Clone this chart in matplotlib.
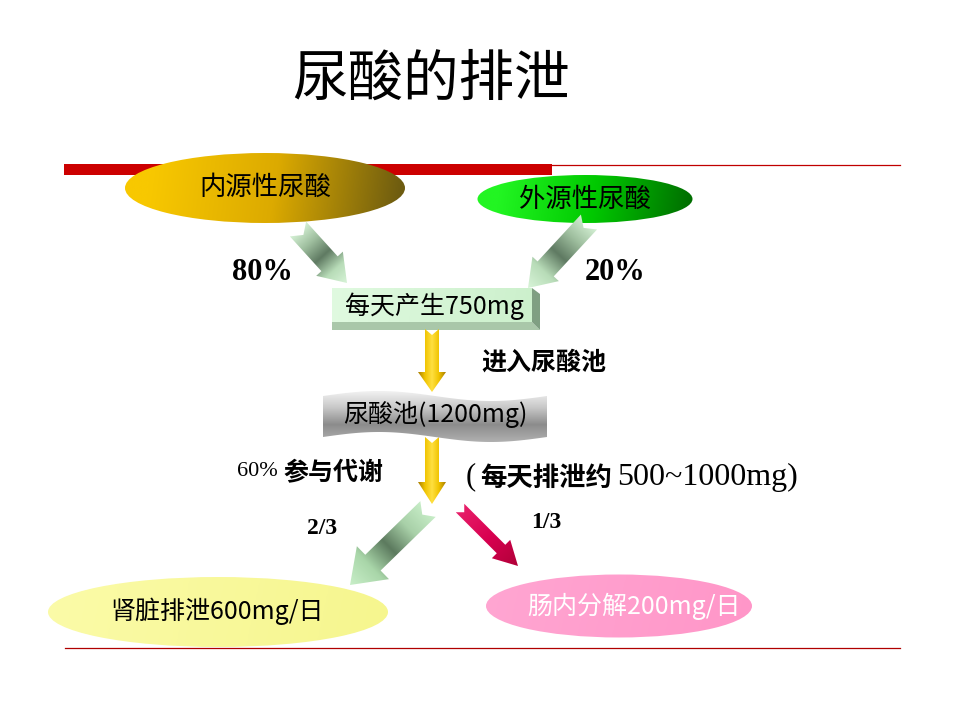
import numpy as np
import matplotlib
matplotlib.use('Agg')
import matplotlib.pyplot as plt
from matplotlib.patches import Ellipse, Polygon, Rectangle
from matplotlib.colors import LinearSegmentedColormap

plt.rcParams['font.family'] = ['Noto Sans CJK SC', 'DejaVu Sans']

# text content of the diagram
title = '尿酸的排泄'
source_labels = ['内源性尿酸', '外源性尿酸']
source_shares = ['80%', '20%']
daily_label = '每天产生750mg'
pool_label = '尿酸池(1200mg)'
pool_note = '进入尿酸池'
metab_pct = '60%'
metab_note = '参与代谢'
excrete_cjk = '每天排泄约'
excrete_range = '500~1000mg)'
split_shares = ['2/3', '1/3']
out_labels = ['肾脏排泄600mg/日', '肠内分解200mg/日']

SERIF = ['Liberation Serif', 'Noto Sans CJK SC']


def gradfill(ax, patch, bbox, colors, p0, p1, z=2):
        #paint a linear gradient inside a patch
        patch.set_facecolor('none')
        patch.set_edgecolor('none')
        patch.set_zorder(z)
        ax.add_patch(patch)
        x0, y0, x1, y1 = bbox
        xs = np.linspace(x0, x1, 200)
        ys = np.linspace(y0, y1, 200)
        X, Y = np.meshgrid(xs, ys)
        dx, dy = p1[0] - p0[0], p1[1] - p0[1]
        t = ((X - p0[0]) * dx + (Y - p0[1]) * dy) / (dx * dx + dy * dy)
        t = np.clip(t, 0, 1)
        cmap = LinearSegmentedColormap.from_list('g', colors)
        im = ax.imshow(cmap(t), extent=(x0, x1, y1, y0), origin='upper',
                       interpolation='bilinear', zorder=z, aspect='auto')
        im.set_clip_path(patch)


def arrowpoly(tail, tip, sw, hw, hl, nd):
        tail = np.array(tail, float)
        tip = np.array(tip, float)
        u = (tip - tail) / np.linalg.norm(tip - tail)
        n = np.array([-u[1], u[0]])
        base = tip - u * hl
        pts = [tail + n * sw / 2, base + n * sw / 2, base + n * hw / 2, tip,
               base - n * hw / 2, base - n * sw / 2, tail - n * sw / 2, tail + u * nd]
        pts = np.array(pts)
        bbox = (pts[:, 0].min(), pts[:, 1].min(), pts[:, 0].max(), pts[:, 1].max())
        return pts, bbox, u, n


def draw_arrow(ax, tail, tip, sw, hw, hl, nd, colors, along=True, z=3):
        pts, bbox, u, n = arrowpoly(tail, tip, sw, hw, hl, nd)
        poly = Polygon(pts, closed=True)
        if along:
                p0, p1 = tail, tip
        else:
                c = np.array(tail, float)
                p0, p1 = c + n * hw / 2, c - n * hw / 2
        gradfill(ax, poly, bbox, colors, p0, p1, z)


fig = plt.figure(figsize=(9.6, 7.2), dpi=100)
ax = fig.add_axes([0, 0, 1, 1])
ax.set_xlim(0, 960)
ax.set_ylim(720, 0)
ax.axis('off')

# title and rules
ax.text(431, 80, title, fontsize=40, ha='center', va='center', color='black')
ax.add_patch(Rectangle((64, 164), 488, 11, facecolor='#cc0000', edgecolor='none', zorder=1))
ax.plot([552, 900], [164.5, 164.5], color='#c00000', lw=0.9, zorder=1)
ax.plot([65, 900], [648, 648], color='#b00000', lw=0.9, zorder=1)

# source ellipses
e1 = Ellipse((265, 188), 280, 70)
gradfill(ax, e1, (125, 153, 405, 223), ['#f8c800', '#dcaa00', '#6e5c10'], (150, 170), (400, 205))
ax.text(265, 187, source_labels[0], fontsize=19, ha='center', va='center', zorder=5)

e2 = Ellipse((585, 199), 215, 48)
gradfill(ax, e2, (477, 175, 693, 223), ['#22f522', '#00c800', '#006e00'], (500, 185), (690, 215))
ax.text(585, 199, source_labels[1], fontsize=19, ha='center', va='center', zorder=5)

# arrows into the daily box
pale = ['#d6f2d6', '#9fbf9f', '#5f7a62', '#b8dcb8', '#d8f4d8']
draw_arrow(ax, (298, 229), (347, 283), 22, 36, 26, 8, pale)
draw_arrow(ax, (589, 222), (528, 288), 22, 36, 26, 8, pale)

ax.text(262, 272, source_shares[0], fontsize=22, fontweight='bold', family=SERIF,
        ha='center', va='center')
ax.text(615, 272, source_shares[1], fontsize=22, fontweight='bold', family=SERIF,
        ha='center', va='center')

# daily box with bevel
ax.add_patch(Polygon([(332, 322), (532, 322), (540, 330), (332, 330)],
                     facecolor='#a9c7a9', edgecolor='none', zorder=3))
ax.add_patch(Polygon([(532, 288), (540, 294), (540, 330), (532, 322)],
                     facecolor='#7f9f82', edgecolor='none', zorder=3))
box = Polygon([(332, 288), (532, 288), (532, 322), (332, 322)])
gradfill(ax, box, (332, 288, 532, 322), ['#e0fae0', '#ccf0cc'], (332, 288), (532, 322), 3)
ax.text(434, 306, daily_label, fontsize=18, ha='center', va='center', zorder=5)

# gold arrows down the middle
gold = ['#a87c00', '#f0c400', '#ffe040', '#f0c400', '#a87c00']
draw_arrow(ax, (432, 329), (432, 392), 14, 28, 20, 6, gold, along=False)
draw_arrow(ax, (432, 437), (432, 504), 14, 28, 22, 6, gold, along=False)

ax.text(544, 363, pool_note, fontsize=18, fontweight='bold', ha='center', va='center')

# wavy pool banner
xs = np.linspace(323, 547, 80)
wave = 5 * np.sin(2 * np.pi * (xs - 323) / 224)
top = np.column_stack([xs, 396 - wave])
bot = np.column_stack([xs[::-1], 437 - wave[::-1]])
banner = Polygon(np.vstack([top, bot]), closed=True)
gradfill(ax, banner, (323, 388, 547, 445), ['#f4f4f4', '#c8c8c8', '#8c8c8c', '#b0b0b0'],
         (435, 390), (435, 442), 3)
ax.text(435, 414, pool_label, fontsize=18, ha='center', va='center', zorder=5)

# metabolism notes
ax.text(237, 472, metab_pct, fontsize=16, family=SERIF, ha='left', va='center')
ax.text(283, 473, metab_note, fontsize=18, fontweight='bold', ha='left', va='center')
ax.text(466, 477, '(', fontsize=22, family=SERIF, ha='left', va='center')
ax.text(480, 478, excrete_cjk, fontsize=19, fontweight='bold', ha='left', va='center')
ax.text(617, 477, excrete_range, fontsize=23, family=SERIF, ha='left', va='center')

# split arrows
draw_arrow(ax, (428, 509), (350, 585), 22, 46, 32, 8,
           ['#c8eec8', '#a8d0a8', '#5c7a5e', '#a9d6a9', '#c8eec8'])
draw_arrow(ax, (460, 508), (518, 566), 12, 26, 24, 6,
           ['#e8206a', '#d80050', '#b00038'])

ax.text(322, 528, split_shares[0], fontsize=17, fontweight='bold', family=SERIF,
        ha='center', va='center')
ax.text(546, 522, split_shares[1], fontsize=17, fontweight='bold', family=SERIF,
        ha='center', va='center')

# output ellipses
e3 = Ellipse((218, 612), 340, 70)
gradfill(ax, e3, (48, 577, 388, 647), ['#fbfba8', '#f6f68e'], (48, 577), (388, 647), 2)
ax.text(217, 611, out_labels[0], fontsize=18, ha='center', va='center', zorder=5)

e4 = Ellipse((619, 606), 266, 63)
gradfill(ax, e4, (486, 574, 752, 638), ['#ffa6d2', '#ff96c8'], (486, 574), (752, 638), 2)
ax.text(634, 606, out_labels[1], fontsize=18, ha='center', va='center', color='white', zorder=5)

fig.savefig('out.png', dpi=100)
